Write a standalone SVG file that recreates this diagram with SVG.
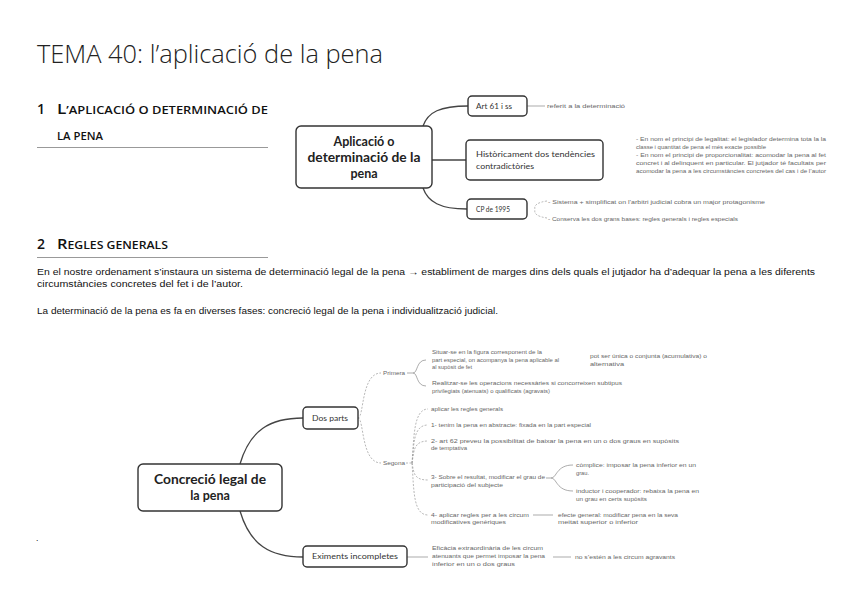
<svg xmlns="http://www.w3.org/2000/svg" width="848" height="599" viewBox="0 0 848 599">
<style>
.bg{fill:#fff}
.title{font-family:"Open Sans","Liberation Sans",sans-serif;font-weight:300;font-size:25px;fill:#222}
.h{font-family:"Open Sans","Liberation Sans",sans-serif;font-weight:600;fill:#111}
.body{font-family:"Liberation Sans",sans-serif;font-size:8.5px;fill:#111}
.rule{stroke:#999;stroke-width:1}
.node rect{fill:#fff;stroke:#333;stroke-width:1.4}
.big{font-family:"Lato","Open Sans",sans-serif;font-weight:700;font-size:12.5px;fill:#222}
.lbl{font-family:"Lato","Open Sans",sans-serif;font-size:7.5px;fill:#333}
.sm{font-family:"Liberation Sans",sans-serif;font-size:6px;fill:#666}
.main{fill:none;stroke:#444;stroke-width:1.3}
.thin{fill:none;stroke:#888;stroke-width:0.7}
.dash{fill:none;stroke:#999;stroke-width:0.7;stroke-dasharray:2 1.5}
</style>
<rect class="bg" x="0" y="0" width="848" height="599"/>

<text class="title" x="37" y="63" textLength="346" lengthAdjust="spacingAndGlyphs">TEMA 40: l’aplicació de la pena</text>

<text class="h" x="37" y="114" font-size="14">1</text>
<text class="h" x="57" y="114" textLength="211" lengthAdjust="spacingAndGlyphs"><tspan font-size="14">L</tspan><tspan font-size="10.5">’APLICACIÓ O DETERMINACIÓ DE</tspan></text>
<text class="h" x="57" y="140" font-size="10.5" textLength="46" lengthAdjust="spacingAndGlyphs">LA PENA</text>
<line class="rule" x1="37" y1="147.5" x2="268" y2="147.5"/>

<text class="h" x="37" y="249" font-size="14">2</text>
<text class="h" x="57" y="249" textLength="111" lengthAdjust="spacingAndGlyphs"><tspan font-size="14">R</tspan><tspan font-size="10.5">EGLES GENERALS</tspan></text>
<line class="rule" x1="37" y1="257.5" x2="268" y2="257.5"/>

<text class="body" x="37" y="275" textLength="778" lengthAdjust="spacingAndGlyphs">En el nostre ordenament s’instaura un sistema de determinació legal de la pena → establiment de marges dins dels quals el jutjador ha d’adequar la pena a les diferents</text>
<text class="body" x="37" y="287" textLength="206" lengthAdjust="spacingAndGlyphs">circumstàncies concretes del fet i de l’autor.</text>
<text class="body" x="37" y="314" textLength="461" lengthAdjust="spacingAndGlyphs">La determinació de la pena es fa en diverses fases: concreció legal de la pena i individualització judicial.</text>

<text class="body" x="36" y="541">.</text>

<g id="connectors">
<path class="main" d="M423,126 C428,112 440,106 468,106"/>
<path class="main" d="M432,160 L466,160"/>
<path class="main" d="M423,188 C428,202 440,209 467,209"/>
<path class="thin" d="M527,106 L545,106"/>
<path class="dash" d="M547,201 Q533,203 535,209.5 Q533,216 547,218"/>

<path class="main" d="M240,464 C250,430 270,418 303,418"/>
<path class="main" d="M240,511 C250,545 270,557 303,557"/>
<path class="dash" d="M358,418 C364,418 361,373 381,373"/>
<path class="dash" d="M358,418 C364,418 361,463 381,463"/>
<path class="thin" d="M407,373 L413,373 M413,373 C418,373 416,360 426,360 M413,373 C418,373 416,386 426,386"/>
<path class="dash" d="M406,463 L412,463 M412,463 C414,440 413,409 428,409 M412,463 C414,445 413,425 428,425 M412,463 C414,452 413,441 428,441 M412,463 C414,472 413,480 428,480 M412,463 C414,490 413,515 428,515"/>
<path class="thin" d="M546,478 L551,478 M551,478 C557,478 556,465 573,465 M551,478 C557,478 556,491 573,491"/>
<path class="thin" d="M533,515 L553,515"/>
<path class="thin" d="M407,557 L428,557"/>
<path class="thin" d="M553,557 L571,557"/>
</g>

<g id="n-aplicacio" class="node">
<rect x="296" y="126" width="136" height="62" rx="5"/>
<text class="big" x="364" y="146" text-anchor="middle">Aplicació o</text>
<text class="big" x="364" y="162" text-anchor="middle" textLength="113" lengthAdjust="spacingAndGlyphs">determinació de la</text>
<text class="big" x="364" y="178" text-anchor="middle">pena</text>
</g>
<g id="n-art61" class="node">
<rect x="468" y="96" width="59" height="20" rx="4"/>
<text class="lbl" x="476" y="109" textLength="36" lengthAdjust="spacingAndGlyphs">Art 61 i ss</text>
</g>
<g id="t-art61">
<text class="sm" x="547" y="108" textLength="78" lengthAdjust="spacingAndGlyphs">referit a la determinació</text>
</g>
<g id="n-historic" class="node">
<rect x="466" y="140" width="137" height="40" rx="4"/>
<text class="lbl" x="476" y="157" textLength="119" lengthAdjust="spacingAndGlyphs">Històricament dos tendències</text>
<text class="lbl" x="476" y="169" textLength="58" lengthAdjust="spacingAndGlyphs">contradictòries</text>
</g>
<g id="t-historic">
<text class="sm" x="636" y="141" textLength="190" lengthAdjust="spacingAndGlyphs">- En nom el principi de legalitat: el legislador determina tota la la</text>
<text class="sm" x="636" y="149" textLength="130" lengthAdjust="spacingAndGlyphs">classe i quantitat de pena el més exacte possible</text>
<text class="sm" x="636" y="157" textLength="190" lengthAdjust="spacingAndGlyphs">- En nom el principi de proporcionalitat: acomodar la pena al fet</text>
<text class="sm" x="636" y="165" textLength="190" lengthAdjust="spacingAndGlyphs">concret i al delinquent en particular. El jutjador té facultats per</text>
<text class="sm" x="636" y="173" textLength="190" lengthAdjust="spacingAndGlyphs">acomodar la pena a les circumstàncies concretes del cas i de l’autor</text>
</g>
<g id="n-cp" class="node">
<rect x="467" y="199" width="60" height="20" rx="4"/>
<text class="lbl" x="476" y="212" textLength="34" lengthAdjust="spacingAndGlyphs">CP de 1995</text>
</g>
<g id="t-cp">
<text class="sm" x="548" y="204" textLength="217" lengthAdjust="spacingAndGlyphs">- Sistema + simplificat on l’arbitri judicial cobra un major protagonisme</text>
<text class="sm" x="548" y="221" textLength="190" lengthAdjust="spacingAndGlyphs">- Conserva les dos grans bases: regles generals i regles especials</text>
</g>

<g id="n-concrecio" class="node">
<rect x="138" y="464" width="144" height="47" rx="5"/>
<text class="big" x="210" y="484" text-anchor="middle" textLength="112" lengthAdjust="spacingAndGlyphs">Concreció legal de</text>
<text class="big" x="210" y="500" text-anchor="middle">la pena</text>
</g>
<g id="n-dosparts" class="node">
<rect x="303" y="407" width="55" height="22" rx="4"/>
<text class="lbl" x="312" y="421" textLength="36" lengthAdjust="spacingAndGlyphs">Dos parts</text>
</g>
<g id="n-eximents" class="node">
<rect x="303" y="546" width="104" height="21" rx="4"/>
<text class="lbl" x="312" y="559" textLength="86" lengthAdjust="spacingAndGlyphs">Eximents incompletes</text>
</g>
<g id="t-primera">
<text class="sm" x="383" y="375" textLength="22" lengthAdjust="spacingAndGlyphs">Primera</text>
</g>
<g id="t-segona">
<text class="sm" x="383" y="465" textLength="22" lengthAdjust="spacingAndGlyphs">Segona</text>
</g>
<g id="t-situar">
<text class="sm" x="432" y="354" textLength="110" lengthAdjust="spacingAndGlyphs">Situar-se en la figura corresponent de la</text>
<text class="sm" x="432" y="361.5" textLength="127" lengthAdjust="spacingAndGlyphs">part especial, on acompanya la pena aplicable al</text>
<text class="sm" x="432" y="369" textLength="40" lengthAdjust="spacingAndGlyphs">al supòsit de fet</text>
</g>
<g id="t-potser">
<text class="sm" x="590" y="358" textLength="117" lengthAdjust="spacingAndGlyphs">pot ser única o conjunta (acumulativa) o</text>
<text class="sm" x="590" y="366" textLength="34" lengthAdjust="spacingAndGlyphs">alternativa</text>
</g>
<g id="t-realitzar">
<text class="sm" x="432" y="385" textLength="190" lengthAdjust="spacingAndGlyphs">Realitzar-se les operacions necessàries si concorreixen subtipus</text>
<text class="sm" x="432" y="393" textLength="118" lengthAdjust="spacingAndGlyphs">privilegiats (atenuats) o qualificats (agravats)</text>
</g>
<g id="t-aplicar">
<text class="sm" x="431" y="411" textLength="72" lengthAdjust="spacingAndGlyphs">aplicar les regles generals</text>
</g>
<g id="t-1">
<text class="sm" x="431" y="427" textLength="160" lengthAdjust="spacingAndGlyphs">1- tenim la pena en abstracte: fixada en la part especial</text>
</g>
<g id="t-2">
<text class="sm" x="431" y="442.5" textLength="248" lengthAdjust="spacingAndGlyphs">2- art 62 preveu la possibilitat de baixar la pena en un o dos graus en supòsits</text>
<text class="sm" x="431" y="450" textLength="36" lengthAdjust="spacingAndGlyphs">de temptativa</text>
</g>
<g id="t-3">
<text class="sm" x="431" y="479" textLength="114" lengthAdjust="spacingAndGlyphs">3- Sobre el resultat, modificar el grau de</text>
<text class="sm" x="431" y="486.5" textLength="72" lengthAdjust="spacingAndGlyphs">participació del subjecte</text>
</g>
<g id="t-complice">
<text class="sm" x="576" y="467" textLength="120" lengthAdjust="spacingAndGlyphs">còmplice: imposar la pena inferior en un</text>
<text class="sm" x="576" y="474.5" textLength="13" lengthAdjust="spacingAndGlyphs">grau.</text>
</g>
<g id="t-inductor">
<text class="sm" x="576" y="493" textLength="123" lengthAdjust="spacingAndGlyphs">inductor i cooperador: rebaixa la pena en</text>
<text class="sm" x="576" y="500.5" textLength="71" lengthAdjust="spacingAndGlyphs">un grau en certs supòsits</text>
</g>
<g id="t-4">
<text class="sm" x="431" y="516.5" textLength="98" lengthAdjust="spacingAndGlyphs">4- aplicar regles per a les circum</text>
<text class="sm" x="431" y="524" textLength="75" lengthAdjust="spacingAndGlyphs">modificatives genèriques</text>
</g>
<g id="t-efecte">
<text class="sm" x="558" y="516.5" textLength="120" lengthAdjust="spacingAndGlyphs">efecte general: modificar pena en la seva</text>
<text class="sm" x="558" y="524" textLength="80" lengthAdjust="spacingAndGlyphs">meitat superior o inferior</text>
</g>
<g id="t-eficacia">
<text class="sm" x="432" y="550" textLength="111" lengthAdjust="spacingAndGlyphs">Eficàcia extraordinària de les circum</text>
<text class="sm" x="432" y="558" textLength="113" lengthAdjust="spacingAndGlyphs">atenuants que permet imposar la pena</text>
<text class="sm" x="432" y="566" textLength="83" lengthAdjust="spacingAndGlyphs">inferior en un o dos graus</text>
</g>
<g id="t-noesten">
<text class="sm" x="575" y="559" textLength="100" lengthAdjust="spacingAndGlyphs">no s’estén a les circum agravants</text>
</g>
</svg>
